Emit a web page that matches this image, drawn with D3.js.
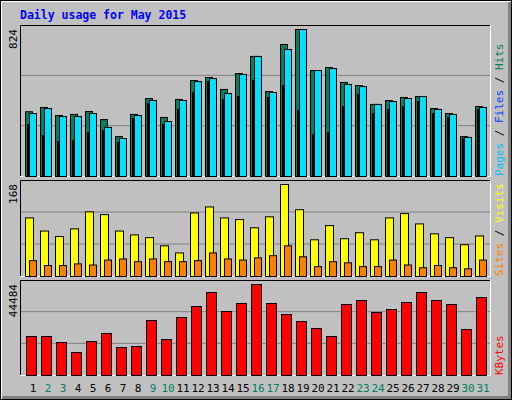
<!DOCTYPE html>
<html><head><meta charset="utf-8">
<script src="https://cdn.jsdelivr.net/npm/d3@7"></script>
<style>body{margin:0;background:#fff}svg{display:block}</style>
</head><body><div id="chart"></div>
<script>
// Daily usage data, May 2015
const days = d3.range(1, 32);
const weekends = [2, 3, 9, 10, 16, 17, 23, 24, 30, 31];
const hits  = [363,387,342,348,364,319,224,348,437,331,432,538,555,488,577,673,476,740,824,594,611,527,510,404,426,443,448,381,353,224,392];
const files = [353,381,336,336,353,275,213,342,426,308,426,532,549,465,572,673,471,712,824,594,605,516,504,404,420,437,448,376,348,219,387];
const pages = [291,230,196,202,247,258,191,325,409,291,376,471,532,432,448,538,443,510,370,235,247,392,460,353,376,392,420,353,331,213,376];
const visits = [107,83,73,87,118,113,83,76,71,56,43,116,127,107,104,89,109,168,122,67,93,69,80,67,107,115,96,78,71,58,74];
const sites  = [29,20,20,23,21,30,32,27,32,27,27,29,43,32,30,34,38,56,36,18,27,25,18,18,30,21,16,20,16,14,30];
const kbytes = [19064,19064,16131,11243,16620,20530,13687,14175,26884,17597,28350,33727,40570,31283,35194,44484,35194,29817,26395,22974,19064,34705,36660,30795,32261,35683,40570,36660,34705,22485,38127];

const W = 512, H = 400;
const svg = d3.select('#chart').append('svg').attr('width', W).attr('height', H);

// outer frame
svg.append('rect').attr('x', 0).attr('y', 0).attr('width', W).attr('height', H).attr('fill', '#c0c0c0');
svg.append('path').attr('d', `M1,${H-1}V1H${W-1}`).attr('stroke', '#fff').attr('stroke-width', 2).attr('fill', 'none');
svg.append('path').attr('d', `M2,${H-2}H${W-2}V2`).attr('stroke', '#808080').attr('stroke-width', 4).attr('fill', 'none');
svg.append('rect').attr('x', 0.5).attr('y', 0.5).attr('width', W-1).attr('height', H-1).attr('fill', 'none').attr('stroke', '#000');

svg.append('text').attr('x', 20).attr('y', 19).text('Daily usage for May 2015')
    .attr('font-family', '"DejaVu Sans Mono", monospace').attr('font-weight', 'bold')
    .attr('font-size', 11.5).attr('fill', '#0000ff');

const x = d3.scaleBand().domain(days).range([20, 485]).paddingInner(0);
const mono = '"DejaVu Sans Mono", monospace';

function panel(top, bottom, max, label, parts) {
    svg.append('rect').attr('x', 20).attr('y', top).attr('width', 470).attr('height', bottom - top)
        .attr('fill', '#c0c0c0');
    const y = d3.scaleLinear().domain([0, max]).range([bottom, top + 4]);
    const gh = (bottom - top) / 3;
    [1, 2].forEach(i => svg.append('line').attr('x1', 20).attr('x2', 490)
        .attr('y1', bottom - gh * i).attr('y2', bottom - gh * i).attr('stroke', '#808080'));
    svg.append('path').attr('d', `M20.5,${bottom}V${top+0.5}H490`).attr('stroke', '#000').attr('fill', 'none');
    svg.append('path').attr('d', `M20,${bottom+0.5}H490.5V${top}`).attr('stroke', '#fff').attr('fill', 'none');
    svg.append('text').attr('transform', `translate(17,${top+4}) rotate(-90)`)
        .attr('text-anchor', 'end').attr('font-family', mono).attr('font-size', 11).text(max);
    // right side rotated legend
    const t = svg.append('text').attr('transform', `translate(503,${bottom}) rotate(-90)`)
        .attr('font-family', mono).attr('font-size', 11);
    label.forEach((l, i) => {
        if (i) t.append('tspan').attr('fill', '#000').text(' / ');
        t.append('tspan').attr('fill', l[1]).text(l[0]);
    });
    return y;
}

function bars(y, data, off, w, fill) {
    svg.append('g').selectAll('rect').data(data).join('rect')
        .attr('x', (d, i) => x(days[i]) + off + 0.5)
        .attr('y', d => y(d) + 0.5)
        .attr('width', w).attr('height', d => y(0) - y(d))
        .attr('fill', fill).attr('stroke', '#000');
}

const y1 = panel(25, 176, 824, [['Pages', '#00c0ff'], ['Files', '#0040ff'], ['Hits', '#008060']].reverse().reverse());
bars(y1, hits, 5, 7, '#008060');
bars(y1, files, 9, 7, '#00e0ff');
bars(y1, pages, 7, 1, '#0040ff');

const y2 = panel(180, 276, 168, [['Sites', '#ff8000'], ['Visits', '#ffff00']]);
bars(y2, visits, 5, 8, '#ffff00');
bars(y2, sites, 9, 7, '#ff8000');

const y3 = panel(280, 375, 44484, [['KBytes', '#ff0000']]);
bars(y3, kbytes, 6, 10, '#ff0000');

svg.append('g').selectAll('text').data(days).join('text')
    .attr('x', d => x(d) + 13).attr('y', 392).attr('text-anchor', 'middle')
    .attr('font-family', mono).attr('font-size', 11)
    .attr('fill', d => weekends.includes(d) ? '#008060' : '#000').text(d => d);
</script></body></html>
